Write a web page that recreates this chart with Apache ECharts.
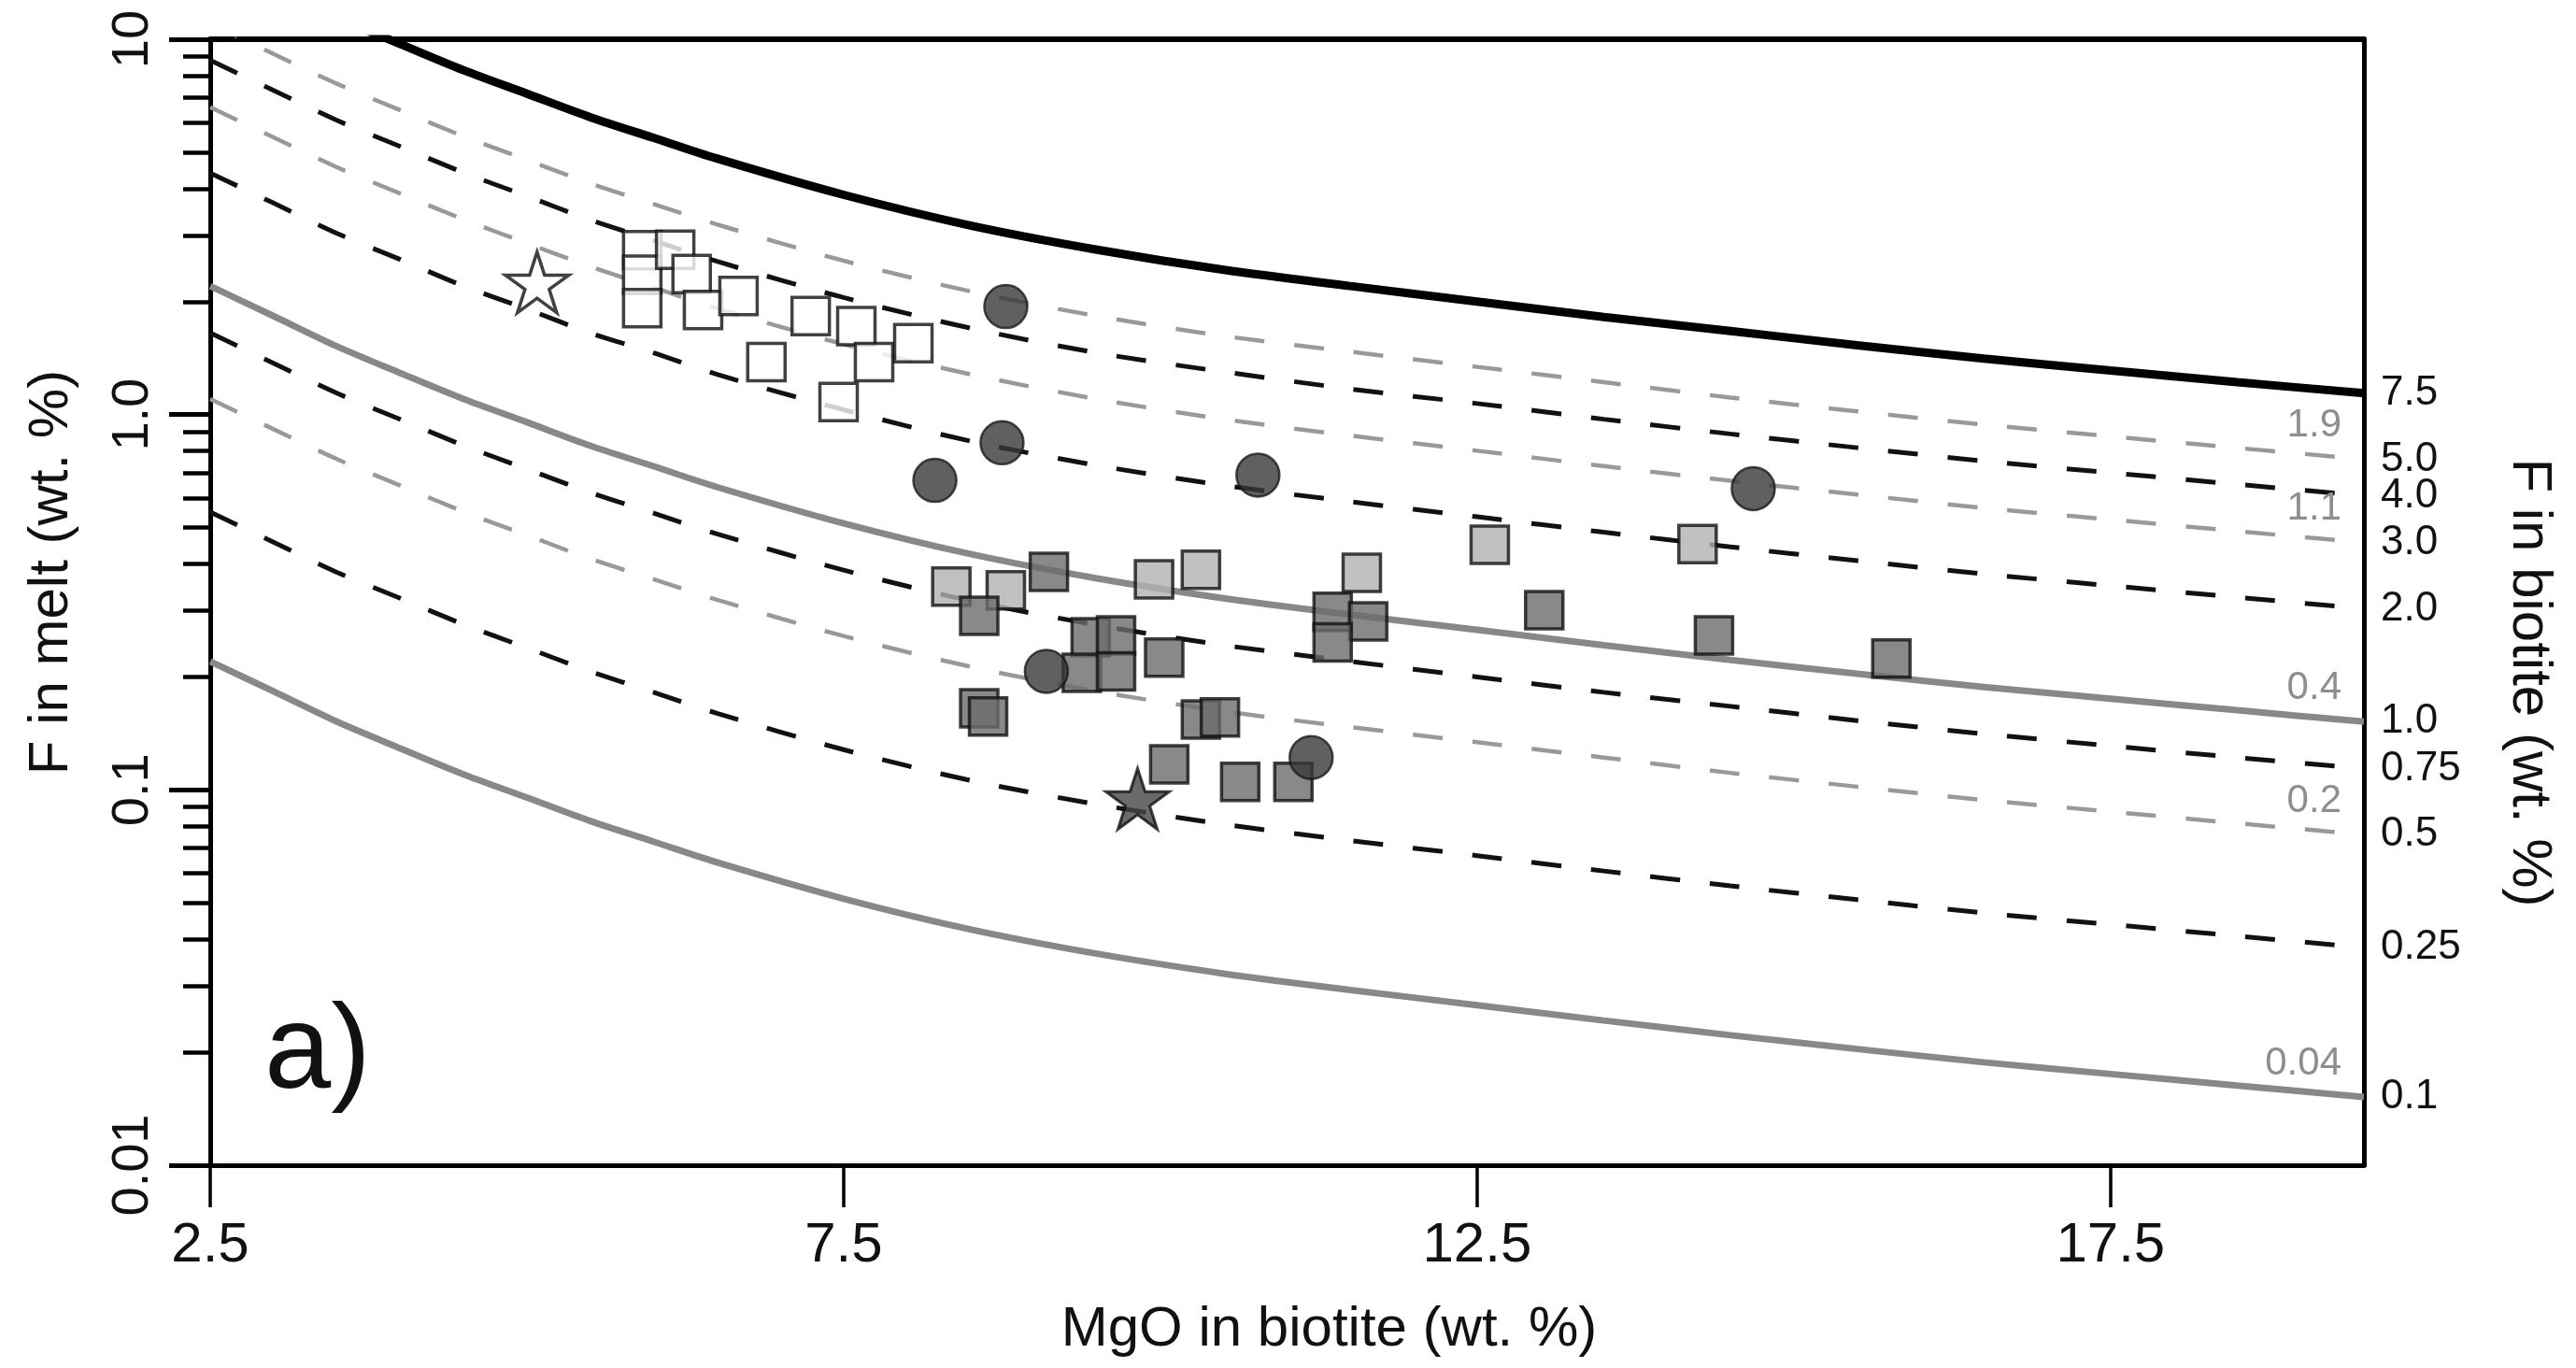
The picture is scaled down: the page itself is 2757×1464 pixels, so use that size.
<!DOCTYPE html>
<html>
<head>
<meta charset="utf-8">
<title>F in melt vs MgO in biotite</title>
<script src="https://cdn.jsdelivr.net/npm/echarts@6.0.0/dist/echarts.min.js"></script>
<style>
  html, body { margin: 0; padding: 0; background: #fff; }
  #chart { width: 2757px; height: 1464px; }
</style>
</head>
<body>
<div id="chart"></div>
<script>
const mgoGrid = [2.5, 3, 3.5, 4, 4.5, 5, 5.5, 6, 6.5, 7.5, 8.5, 9.5, 10.5, 11.5, 12.5, 13.5, 14.5, 15.5, 16.5, 17.5, 18.5, 19.5];

// F in melt (wt. %) along each F-in-biotite isopleth
const melt75 = [16.5, 13.7, 11.4, 9.71, 8.27, 7.16, 6.20, 5.46, 4.81, 3.85, 3.19, 2.75, 2.43, 2.20, 2.00, 1.82, 1.67, 1.53, 1.41, 1.31, 1.22, 1.14];
const melt50 = [11.0, 9.14, 7.61, 6.47, 5.51, 4.77, 4.13, 3.64, 3.21, 2.57, 2.13, 1.83, 1.62, 1.47, 1.34, 1.22, 1.11, 1.02, 0.940, 0.875, 0.815, 0.760];
const melt40 = [8.79, 7.31, 6.08, 5.18, 4.41, 3.82, 3.30, 2.91, 2.56, 2.05, 1.70, 1.46, 1.30, 1.17, 1.07, 0.972, 0.888, 0.816, 0.752, 0.700, 0.652, 0.608];
const melt30 = [6.59, 5.48, 4.56, 3.88, 3.31, 2.86, 2.48, 2.18, 1.92, 1.54, 1.28, 1.10, 0.972, 0.879, 0.801, 0.729, 0.666, 0.612, 0.564, 0.525, 0.489, 0.456];
const melt20 = [4.40, 3.66, 3.04, 2.59, 2.20, 1.91, 1.65, 1.46, 1.28, 1.03, 0.850, 0.732, 0.648, 0.586, 0.534, 0.486, 0.444, 0.408, 0.376, 0.350, 0.326, 0.304];
const melt10 = [2.20, 1.83, 1.52, 1.29, 1.10, 0.954, 0.826, 0.728, 0.641, 0.513, 0.425, 0.366, 0.324, 0.293, 0.267, 0.243, 0.222, 0.204, 0.188, 0.175, 0.163, 0.152];
const melt075 = [1.65, 1.37, 1.14, 0.971, 0.827, 0.716, 0.620, 0.546, 0.481, 0.385, 0.319, 0.275, 0.243, 0.220, 0.200, 0.182, 0.167, 0.153, 0.141, 0.131, 0.122, 0.114];
const melt05 = [1.10, 0.914, 0.761, 0.647, 0.551, 0.477, 0.413, 0.364, 0.321, 0.257, 0.213, 0.183, 0.162, 0.147, 0.134, 0.122, 0.111, 0.102, 0.0940, 0.0875, 0.0815, 0.0760];
const melt025 = [0.550, 0.457, 0.380, 0.324, 0.276, 0.239, 0.207, 0.182, 0.160, 0.128, 0.106, 0.0915, 0.0810, 0.0733, 0.0668, 0.0608, 0.0555, 0.0510, 0.0470, 0.0438, 0.0408, 0.0380];
const melt01 = [0.220, 0.183, 0.152, 0.129, 0.110, 0.0954, 0.0826, 0.0728, 0.0641, 0.0513, 0.0425, 0.0366, 0.0324, 0.0293, 0.0267, 0.0243, 0.0222, 0.0204, 0.0188, 0.0175, 0.0163, 0.0152];

// labels of the isopleths (right side) and the grey numbers on some of them
const bioLabels = ['7.5', '5.0', '4.0', '3.0', '2.0', '1.0', '0.75', '0.5', '0.25', '0.1'];
const greyLabels = ['', '1.9', '', '1.1', '', '0.4', '', '0.2', '', '0.04'];

// samples [MgO, F in melt]
const openSquares = [[5.91, 2.74], [5.91, 2.36], [5.91, 1.92], [6.17, 2.75], [6.30, 2.37], [6.39, 1.90], [6.67, 2.07],
  [7.24, 1.83], [7.60, 1.72], [6.89, 1.38], [7.74, 1.38], [8.05, 1.55], [7.46, 1.08]];
const lightSquares = [[8.35, 0.348], [8.78, 0.340], [9.95, 0.364], [10.32, 0.386], [11.59, 0.379], [12.60, 0.450], [14.24, 0.452]];
const darkSquares = [[8.57, 0.291], [9.12, 0.381], [9.45, 0.255], [9.65, 0.258], [9.38, 0.205], [9.65, 0.207], [10.03, 0.225],
  [11.36, 0.298], [11.64, 0.281], [11.36, 0.247], [13.03, 0.301], [14.37, 0.258], [15.77, 0.224],
  [8.57, 0.165], [8.64, 0.157], [10.32, 0.154], [10.47, 0.156], [10.07, 0.117], [10.63, 0.105], [11.05, 0.105]];
const circles = [[8.78, 1.94], [8.22, 0.668], [8.75, 0.841], [10.77, 0.69], [14.68, 0.635], [9.10, 0.207], [11.19, 0.122]];
const openStar = [[5.08, 2.25]];
const darkStar = [[9.82, 0.0946]];

// axis ticks
const xTicks = [2.5, 7.5, 12.5, 17.5];
const yMajor = [0.01, 0.1, 1, 10];
const yMajorLabels = ['0.01', '0.1', '1.0', '10'];
const yMinor = [0.02, 0.03, 0.04, 0.05, 0.06, 0.07, 0.08, 0.09,
  0.2, 0.3, 0.4, 0.5, 0.6, 0.7, 0.8, 0.9,
  2, 3, 4, 5, 6, 7, 8, 9];

const SANS = '"Liberation Sans", Arial, Helvetica, sans-serif';
const NARROW = '"Liberation Sans Narrow", "Arial Narrow", "Liberation Sans", sans-serif';

const styles = {
  thick: { color: '#000', width: 9, type: 'solid' },
  blackDash: { color: '#111', width: 5, type: [32, 32] },
  greyDash: { color: '#999', width: 4.5, type: [32, 32] },
  greySolid: { color: '#888', width: 7, type: 'solid' }
};

const curves = [
  { data: melt75, style: 'thick' },
  { data: melt50, style: 'greyDash' },
  { data: melt40, style: 'blackDash' },
  { data: melt30, style: 'greyDash' },
  { data: melt20, style: 'blackDash' },
  { data: melt10, style: 'greySolid' },
  { data: melt075, style: 'blackDash' },
  { data: melt05, style: 'greyDash' },
  { data: melt025, style: 'blackDash' },
  { data: melt01, style: 'greySolid' }
];

const last = mgoGrid.length - 1;

const lineSeries = curves.map(function (c, k) {
  const s = {
    type: 'line',
    name: bioLabels[k],
    data: mgoGrid.map((m, i) => [m, c.data[i]]),
    symbol: 'none',
    smooth: 0.3,
    clip: true,
    silent: true,
    z: 2,
    lineStyle: styles[c.style],
    endLabel: {
      show: true,
      formatter: bioLabels[k],
      distance: 18,
      color: '#111',
      fontSize: 44,
      fontFamily: SANS
    }
  };
  if (greyLabels[k]) {
    s.markPoint = {
      symbol: 'circle',
      symbolSize: 2,
      silent: true,
      itemStyle: { color: 'rgba(0,0,0,0)' },
      label: {
        show: true,
        formatter: greyLabels[k],
        align: 'right',
        offset: [-24, -36],
        color: '#8e8e8e',
        fontSize: 42,
        fontFamily: SANS
      },
      data: [{ coord: [mgoGrid[last], c.data[last]] }]
    };
  }
  return s;
});

const starPath = 'path://M50,0 L61.8,35.3 L100,35.3 L69.1,57.1 L80.9,92.7 L50,70.5 L19.1,92.7 L30.9,57.1 L0,35.3 L38.2,35.3 Z';

const scatterSeries = [
  { type: 'scatter', data: openSquares, symbol: 'rect', symbolSize: 40,
    itemStyle: { color: '#fff', borderColor: '#111', borderWidth: 3.5 } },
  { type: 'scatter', data: lightSquares, symbol: 'rect', symbolSize: 40,
    itemStyle: { color: '#b2b2b2', borderColor: '#111', borderWidth: 3.5 } },
  { type: 'scatter', data: darkSquares, symbol: 'rect', symbolSize: 40,
    itemStyle: { color: '#6b6b6b', borderColor: '#111', borderWidth: 3.5 } },
  { type: 'scatter', data: circles, symbol: 'circle', symbolSize: 46,
    itemStyle: { color: '#383838', borderColor: '#1a1a1a', borderWidth: 2.5 } },
  { type: 'scatter', data: openStar, symbol: starPath, symbolSize: [68, 65],
    itemStyle: { color: '#fff', borderColor: '#111', borderWidth: 3.5 } },
  { type: 'scatter', data: darkStar, symbol: starPath, symbolSize: [68, 65],
    itemStyle: { color: '#454545', borderColor: '#111', borderWidth: 3 } }
].map(s => Object.assign(s, { z: 5, silent: true }));

const chart = echarts.init(document.getElementById('chart'));

chart.setOption({
  animation: false,
  backgroundColor: '#fff',
  title: {
    text: 'a)',
    left: 278,
    top: 1060,
    textStyle: { fontSize: 128, fontWeight: 'normal', color: '#111', fontFamily: NARROW }
  },
  grid: { left: 225, right: 227, top: 42, bottom: 217, containLabel: false },
  xAxis: [
    {
      type: 'value',
      min: 2.5,
      max: 19.5,
      position: 'bottom',
      name: 'MgO in biotite (wt. %)',
      nameLocation: 'middle',
      nameGap: 146,
      nameTextStyle: { fontSize: 60, color: '#111', fontFamily: SANS, padding: [0, 0, 0, 90] },
      axisLine: { lineStyle: { color: '#000', width: 5 } },
      axisTick: { show: true, length: 45, customValues: xTicks, lineStyle: { color: '#000', width: 3.5 } },
      axisLabel: { customValues: xTicks, fontSize: 60, margin: 56, color: '#111', fontFamily: SANS },
      splitLine: { show: false }
    },
    {
      type: 'value',
      min: 2.5,
      max: 19.5,
      position: 'top',
      axisLine: { lineStyle: { color: '#000', width: 6 } },
      axisTick: { show: false },
      axisLabel: { show: false },
      splitLine: { show: false }
    }
  ],
  yAxis: [
    {
      type: 'log',
      logBase: 10,
      min: 0.01,
      max: 10,
      position: 'left',
      name: 'F in melt (wt. %)',
      nameLocation: 'middle',
      nameRotate: 90,
      nameGap: 140,
      nameTextStyle: { fontSize: 60, color: '#111', fontFamily: SANS, padding: [0, 0, 0, 64] },
      axisLine: { lineStyle: { color: '#000', width: 5 } },
      axisTick: { show: true, length: 44, customValues: yMajor, lineStyle: { color: '#000', width: 5 } },
      axisLabel: {
        customValues: yMajor,
        rotate: 90,
        margin: 54,
        fontSize: 56,
        color: '#111',
        fontFamily: NARROW,
        formatter: function (v) {
          const i = yMajor.findIndex(t => Math.abs(t - v) < t * 1e-6);
          return i >= 0 ? yMajorLabels[i] : '';
        }
      },
      splitLine: { show: false }
    },
    {
      type: 'log',
      logBase: 10,
      min: 0.01,
      max: 10,
      position: 'left',
      axisLine: { show: false },
      axisTick: { show: true, length: 29, customValues: yMinor, lineStyle: { color: '#000', width: 4.5 } },
      axisLabel: { show: false },
      splitLine: { show: false }
    },
    {
      type: 'log',
      logBase: 10,
      min: 0.01,
      max: 10,
      position: 'right',
      name: 'F in biotite (wt. %)',
      nameLocation: 'middle',
      nameRotate: -90,
      nameGap: 147,
      nameTextStyle: { fontSize: 60, color: '#111', fontFamily: SANS, padding: [0, 0, 0, 172] },
      axisLine: { lineStyle: { color: '#000', width: 5 } },
      axisTick: { show: false },
      axisLabel: { show: false },
      splitLine: { show: false }
    }
  ],
  series: lineSeries.concat(scatterSeries)
});
</script>
</body>
</html>
